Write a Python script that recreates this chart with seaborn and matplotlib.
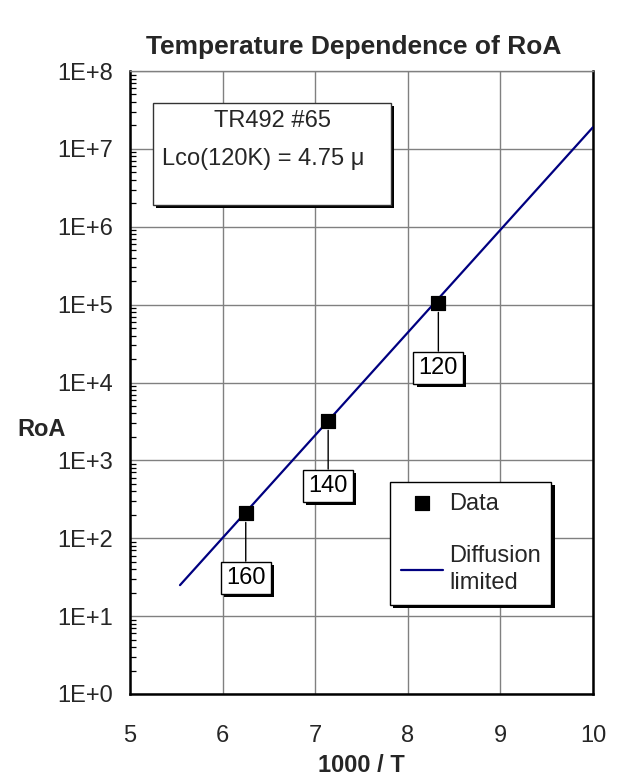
import numpy as np
import pandas as pd
import matplotlib
matplotlib.use("Agg")
import matplotlib.pyplot as plt
import matplotlib.patheffects as pe
import seaborn as sns
from matplotlib.ticker import FixedLocator, FuncFormatter, LogLocator, NullFormatter
from matplotlib.patches import Rectangle

# ---- data ----
temps = [160, 140, 120]
data_x = [6.25, 7.14, 8.33]
data_y = [213, 3240, 1.06e5]
fit_x = [5.54, 10.0]
fit_y = [25, 1.9e7]
point_labels = ["160", "140", "120"]
x_ticks = [5, 6, 7, 8, 9, 10]
y_ticks = [1e0, 1e1, 1e2, 1e3, 1e4, 1e5, 1e6, 1e7, 1e8]
title = "Temperature Dependence of RoA"
xlabel = "1000 / T"
ylabel = "RoA"
info_lines = ["TR492 #65", "Lco(120K) = 4.75 \u03bc"]

sns.set_style("white")
plt.rcParams["font.family"] = ["Liberation Sans", "DejaVu Sans"]

FS = 17
W, H = 617, 782
fig = plt.figure(figsize=(W / 100, H / 100), dpi=100)
L, R, B, T = 130, 593, 694, 71
ax = fig.add_axes([L / W, 1 - B / H, (R - L) / W, (B - T) / H])

df_pts = pd.DataFrame({"x": data_x, "y": data_y})
df_fit = pd.DataFrame({"x": fit_x, "y": fit_y})

sns.lineplot(data=df_fit, x="x", y="y", ax=ax, color="#000080", lw=1.6,
             label="Diffusion\nlimited", zorder=3)
sns.scatterplot(data=df_pts, x="x", y="y", ax=ax, marker="s", s=115,
                color="black", edgecolor="black", label="Data", zorder=4)

ax.set_yscale("log")
ax.set_xlim(5, 10)
ax.set_ylim(1, 1e8)
ax.xaxis.set_major_locator(FixedLocator(x_ticks))
ax.yaxis.set_major_locator(FixedLocator(y_ticks))
ax.yaxis.set_major_formatter(FuncFormatter(lambda v, p: "1E+%d" % int(round(np.log10(v)))))
ax.yaxis.set_minor_locator(LogLocator(base=10, subs=np.arange(2, 10), numticks=20))
ax.yaxis.set_minor_formatter(NullFormatter())
ax.tick_params(axis="x", length=0, labelsize=FS, pad=22)
ax.tick_params(axis="y", which="major", length=0, labelsize=FS, pad=12)
ax.tick_params(axis="y", which="minor", direction="in", length=4.5, width=0.9,
               color="black", left=True, right=False)
ax.grid(True, which="major", color="#808080", lw=1)

for s in ["left", "bottom", "right"]:
    ax.spines[s].set_color("black")
    ax.spines[s].set_linewidth(1.8)
ax.spines["top"].set_color("#808080")
ax.spines["top"].set_linewidth(1)


def afx(p):
    return (p - L) / (R - L)


def afy(p):
    return (B - p) / (B - T)


ax.set_xlabel(xlabel, fontsize=FS, fontweight="bold")
ax.xaxis.label.set_va("center")
ax.xaxis.set_label_coords(0.5, afy(766))
ax.set_ylabel("")
fig.text(42 / W, 1 - 430 / H, ylabel, fontsize=FS, fontweight="bold", ha="center", va="center")
fig.text(354 / W, 1 - 47 / H, title, fontsize=19, fontweight="bold", ha="center", va="center")

shadow = [pe.SimplePatchShadow(offset=(2.3, -2.3), shadow_rgbFace="black", alpha=1), pe.Normal()]

# point label boxes with leader lines and shadows
px = 0.72  # points per pixel
pad = 0.22
for xv, yv, lab in zip(data_x, data_y, point_labels):
    off = -(49 + pad * FS / px) * px
    t = ax.annotate(lab, xy=(xv, yv), xytext=(0, off), textcoords="offset points",
                    ha="center", va="top", fontsize=FS, color="black",
                    bbox=dict(boxstyle="square,pad=%.2f" % pad, fc="white", ec="black", lw=1),
                    arrowprops=dict(arrowstyle="-", color="black", lw=1, shrinkA=0, shrinkB=7),
                    zorder=6)
    t.get_bbox_patch().set_path_effects(shadow)

# info text box
bx0, bx1, by0, by1 = 153, 391, 103, 205
box = Rectangle((afx(bx0), afy(by1)), afx(bx1) - afx(bx0), afy(by0) - afy(by1),
                transform=ax.transAxes, fc="white", ec="#333333", lw=1, zorder=7)
box.set_path_effects(shadow)
ax.add_patch(box)
ax.text(afx(272), afy(121), info_lines[0], transform=ax.transAxes, fontsize=FS,
        ha="center", va="center", zorder=8)
ax.text(afx(162), afy(159), info_lines[1], transform=ax.transAxes, fontsize=FS,
        ha="left", va="center", zorder=8)

# legend
handles, labels = ax.get_legend_handles_labels()
order = [labels.index("Data"), labels.index("Diffusion\nlimited")]
leg = ax.legend([handles[i] for i in order], [labels[i] for i in order],
                loc="upper left", bbox_to_anchor=(afx(390), afy(482)), borderaxespad=0,
                frameon=True, fancybox=False, edgecolor="black", framealpha=1,
                fontsize=FS, handlelength=1.8, handletextpad=0.25, labelspacing=1.3,
                borderpad=0.45)
for txt in leg.get_texts():
    txt.set_linespacing(1.3)
leg.get_frame().set_linewidth(1)
leg.get_frame().set_path_effects(shadow)
leg.set_zorder(9)

fig.savefig("out.png", dpi=100)
